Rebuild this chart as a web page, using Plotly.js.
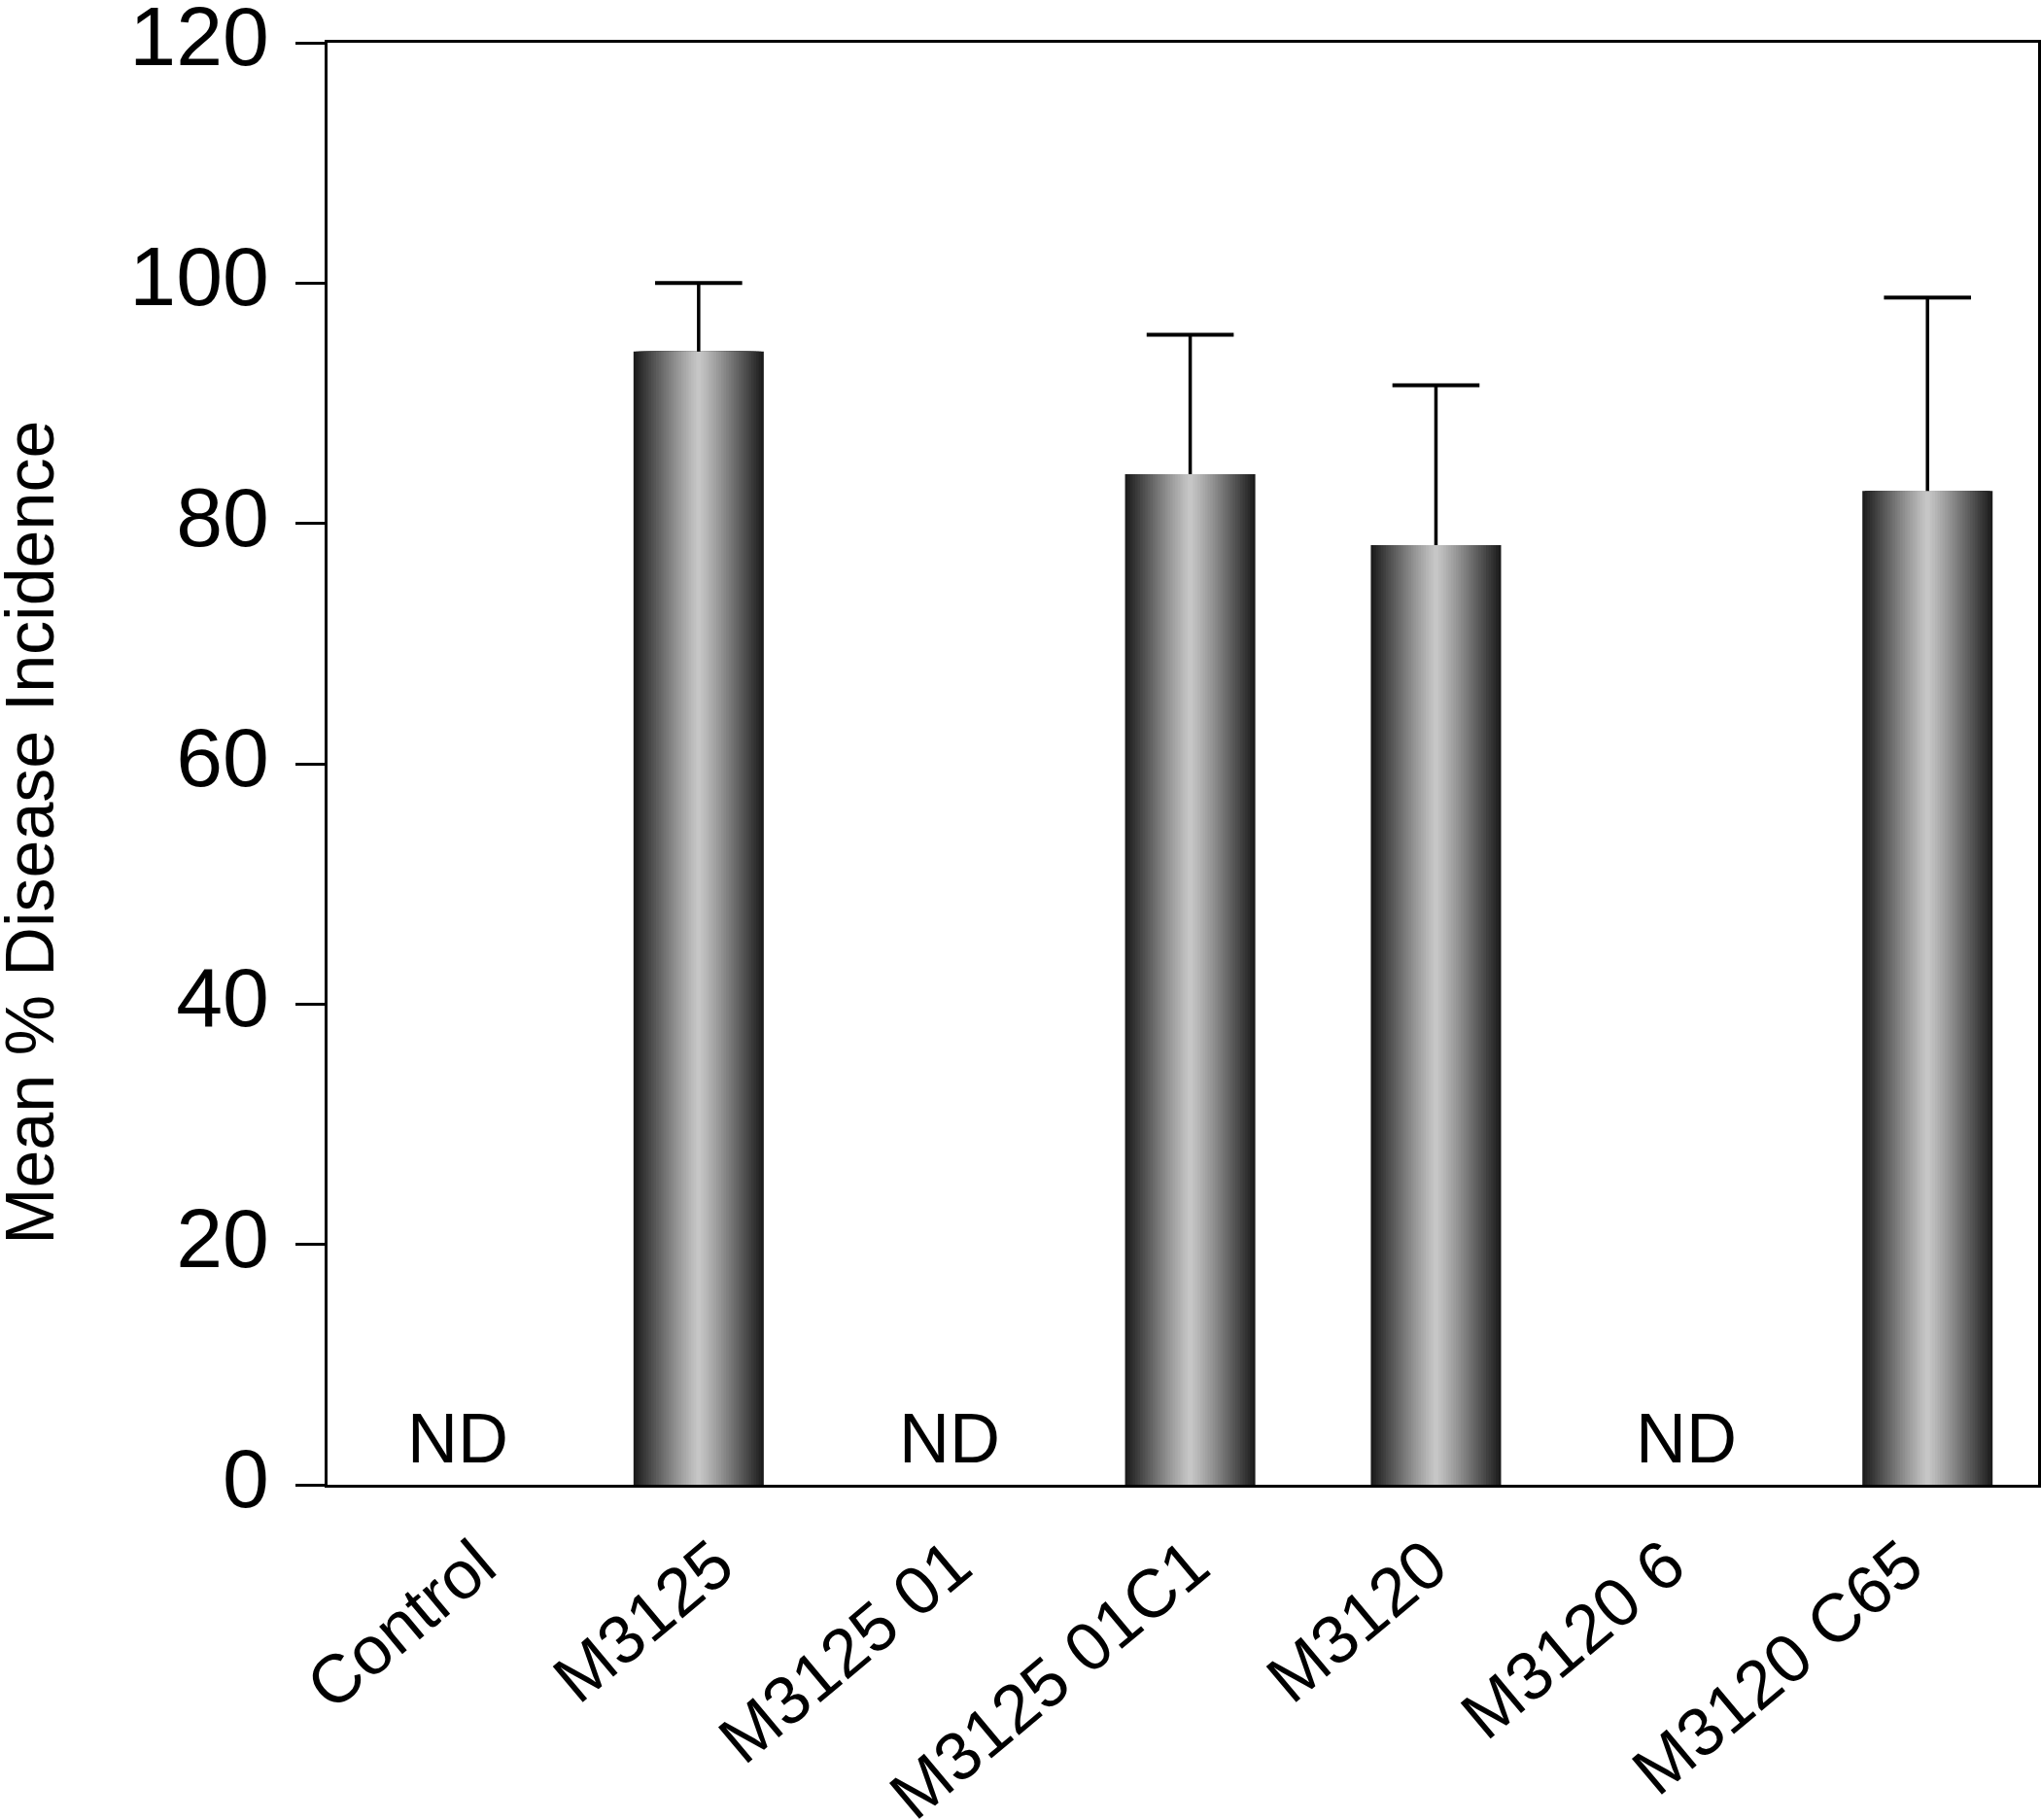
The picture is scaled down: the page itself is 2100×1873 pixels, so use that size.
<!DOCTYPE html>
<html>
<head>
<meta charset="utf-8">
<script src="https://cdn.plot.ly/plotly-3.0.1.min.js"></script>
<style>
  body { margin: 0; background: #ffffff; }
  #chart { width: 2100px; height: 1873px; }
</style>
</head>
<body>
<div id="chart"></div>
<script>
// Chart data
const categories = ['Control', 'M3125', 'M3125 01', 'M3125 01C1', 'M3120', 'M3120 6', 'M3120 C65'];
const meanIncidence = [null, 94.3, null, 84.1, 78.2, null, 82.7];
const errorUp = [null, 5.7, null, 11.6, 13.3, null, 16.1];
const notDetermined = ['Control', 'M3125 01', 'M3120 6'];
const ndLabel = 'ND';
const ndLevel = 3.9;

const yTicks = [0, 20, 40, 60, 80, 100, 120];

// Cylinder-like shading: stack narrower, lighter bars on top of each other
const barWidth = 0.53;
const layers = 26;
const dark = 24;
const light = 200;

const traces = [];
for (let k = 0; k < layers; k++) {
    const frac = 1 - k / layers;
    const d = frac - 0.5 / layers; // distance from bar centre (0..1)
    const g = Math.round(light - (light - dark) * Math.pow(d, 1.1));
    traces.push({
        type: 'bar',
        x: categories,
        y: meanIncidence,
        width: barWidth * frac,
        marker: { color: `rgb(${g},${g},${g})`, line: { width: 0 } },
        hoverinfo: 'skip',
        showlegend: false
    });
}

// Upper error bars: stem from the bar top...
traces.push({
    type: 'scatter',
    mode: 'markers',
    x: categories,
    y: meanIncidence,
    marker: { size: 1, color: 'rgba(0,0,0,0)' },
    error_y: {
        type: 'data',
        symmetric: false,
        array: errorUp,
        arrayminus: errorUp.map(() => 0),
        color: '#000000',
        thickness: 3.5,
        width: 0
    },
    showlegend: false,
    hoverinfo: 'skip'
});

// ...and a cap only at the top end
traces.push({
    type: 'scatter',
    mode: 'markers',
    x: categories,
    y: meanIncidence.map((v, i) => v == null ? null : v + errorUp[i]),
    marker: { symbol: 'line-ew', size: 64, line: { color: '#000000', width: 4 } },
    showlegend: false,
    hoverinfo: 'skip'
});

// invisible trace that carries the category labels (spaced a bit tighter than the bars)
traces.push({
    type: 'scatter',
    mode: 'markers',
    x: categories,
    y: categories.map(() => 0),
    xaxis: 'x2',
    marker: { size: 1, color: 'rgba(0,0,0,0)' },
    showlegend: false,
    hoverinfo: 'skip'
});

const annotations = notDetermined.map(c => ({
    x: c,
    y: ndLevel,
    xref: 'x',
    yref: 'y',
    text: ndLabel,
    showarrow: false,
    xanchor: 'center',
    yanchor: 'middle',
    xshift: 5,
    font: { size: 72, color: '#000000' }
}));

// Y title as annotation so it sits like the original (slightly below centre)
annotations.push({
    x: -0.1735,
    y: 0.452,
    xref: 'paper',
    yref: 'paper',
    text: 'Mean % Disease Incidence',
    textangle: -90,
    showarrow: false,
    xanchor: 'center',
    yanchor: 'middle',
    font: { size: 70, color: '#000000' }
});

const layout = {
    width: 2100,
    height: 1873,
    margin: { l: 337, r: 3, t: 44, b: 345 },
    paper_bgcolor: '#ffffff',
    plot_bgcolor: '#ffffff',
    barmode: 'overlay',
    font: { family: 'Liberation Sans, Arial, sans-serif', color: '#000000' },
    xaxis: {
        type: 'category',
        categoryorder: 'array',
        categoryarray: categories,
        range: [-0.51, 6.45],
        showline: true,
        linecolor: '#000000',
        linewidth: 3,
        mirror: true,
        ticks: '',
        showticklabels: false,
        showgrid: false,
        zeroline: false
    },
    xaxis2: {
        type: 'category',
        categoryorder: 'array',
        categoryarray: categories,
        range: [-0.527, 6.665],
        overlaying: 'x',
        side: 'bottom',
        anchor: 'y',
        showline: false,
        ticks: '',
        tickangle: -40,
        tickfont: { size: 70 },
        ticklabelstandoff: 27,
        ticklabelshift: 26,
        showgrid: false,
        zeroline: false
    },
    yaxis: {
        range: [0, 120],
        tickvals: yTicks,
        ticktext: yTicks.map(String),
        showline: true,
        linecolor: '#000000',
        linewidth: 3,
        mirror: true,
        ticks: 'outside',
        ticklen: 30,
        tickwidth: 3,
        tickcolor: '#000000',
        tickfont: { size: 86 },
        ticklabelstandoff: 10,
        ticklabelshift: -7,
        ticklabeloverflow: 'allow',
        showgrid: false,
        zeroline: false
    },
    annotations: annotations
};

Plotly.newPlot('chart', traces, layout, { displayModeBar: false, staticPlot: true });
</script>
</body>
</html>
